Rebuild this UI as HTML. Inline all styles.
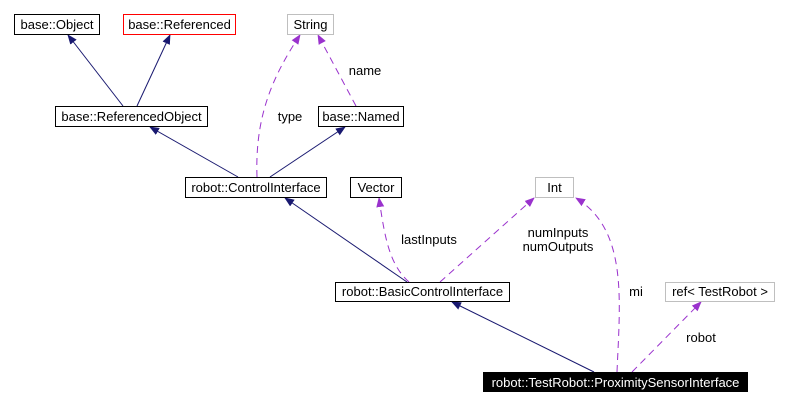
<!DOCTYPE html>
<html><head><style>
body{margin:0;background:#fff;}
svg text{font-family:"Liberation Sans",sans-serif;font-size:13px;}
</style></head><body>
<svg width="788" height="406" xmlns="http://www.w3.org/2000/svg">
<defs>
<marker id="n" markerWidth="10" markerHeight="10" refX="9" refY="5" orient="auto" markerUnits="userSpaceOnUse"><path d="M0,1 L10,5 L0,9z" fill="#191970"/></marker>
<marker id="p" markerWidth="10" markerHeight="10" refX="9" refY="5" orient="auto" markerUnits="userSpaceOnUse"><path d="M0,1 L10,5 L0,9z" fill="#9a32cd"/></marker>
</defs>
<g fill="none" stroke="#191970" stroke-width="1">
<path d="M123,106 L68,35" marker-end="url(#n)"/>
<path d="M137,106 L170,35" marker-end="url(#n)"/>
<path d="M238,177 L150,127" marker-end="url(#n)"/>
<path d="M270,177 L345,127" marker-end="url(#n)"/>
<path d="M407,282 L285,198" marker-end="url(#n)"/>
<path d="M594,372 L452,302" marker-end="url(#n)"/>
</g>
<g fill="none" stroke="#9a32cd" stroke-width="1" stroke-dasharray="7,5">
<path d="M257,177 C255,120 270,80 300,35" marker-end="url(#p)"/>
<path d="M356,106 L318,35" marker-end="url(#p)"/>
<path d="M409,282 C390,265 385,240 379,198" marker-end="url(#p)"/>
<path d="M440,282 L534,198" marker-end="url(#p)"/>
<path d="M617,372 C620,300 628,230 576,198" marker-end="url(#p)"/>
<path d="M632,372 L701,302" marker-end="url(#p)"/>
</g>
<g stroke-width="1">
<rect x="14.5" y="14.5" width="85" height="20" fill="#fff" stroke="#000"/>
<rect x="123.5" y="14.5" width="112" height="20" fill="#fff" stroke="#f00"/>
<rect x="287.5" y="14.5" width="46" height="20" fill="#fff" stroke="#bfbfbf"/>
<rect x="55.5" y="106.5" width="152" height="20" fill="#fff" stroke="#000"/>
<rect x="318.5" y="106.5" width="85" height="20" fill="#fff" stroke="#000"/>
<rect x="185.5" y="177.5" width="141" height="20" fill="#fff" stroke="#000"/>
<rect x="350.5" y="177.5" width="51" height="20" fill="#fff" stroke="#000"/>
<rect x="535.5" y="177.5" width="38" height="20" fill="#fff" stroke="#bfbfbf"/>
<rect x="335.5" y="282.5" width="174" height="19" fill="#fff" stroke="#000"/>
<rect x="665.5" y="282.5" width="109" height="19" fill="#fff" stroke="#bfbfbf"/>
<rect x="483" y="372" width="265" height="20" fill="#000"/>
</g>
<g text-anchor="middle" fill="#000">
<text x="57" y="29">base::Object</text>
<text x="179.5" y="29">base::Referenced</text>
<text x="310.5" y="29">String</text>
<text x="131.5" y="121">base::ReferencedObject</text>
<text x="361" y="121">base::Named</text>
<text x="256" y="192">robot::ControlInterface</text>
<text x="376" y="192">Vector</text>
<text x="554.5" y="192">Int</text>
<text x="422.5" y="296">robot::BasicControlInterface</text>
<text x="720" y="296">ref&lt; TestRobot &gt;</text>
<text x="615.5" y="387" fill="#fff">robot::TestRobot::ProximitySensorInterface</text>
<text x="365" y="75">name</text>
<text x="290" y="121">type</text>
<text x="429" y="244">lastInputs</text>
<text x="558" y="237">numInputs</text>
<text x="558" y="251">numOutputs</text>
<text x="636" y="296">mi</text>
<text x="701" y="342">robot</text>
</g>
</svg>
</body></html>
